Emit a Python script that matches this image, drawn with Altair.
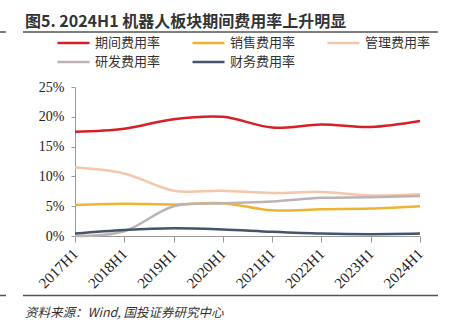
import altair as alt
import pandas as pd

periods = ["2017H1", "2018H1", "2019H1", "2020H1", "2021H1", "2022H1", "2023H1", "2024H1"]
series_names = ["期间费用率", "销售费用率", "管理费用率", "研发费用率", "财务费用率"]
period_rate = [17.5, 18.0, 19.6, 20.0, 18.2, 18.7, 18.3, 19.3]
sales_rate = [5.2, 5.4, 5.3, 5.5, 4.3, 4.5, 4.6, 5.0]
admin_rate = [11.5, 10.5, 7.6, 7.6, 7.2, 7.4, 6.8, 7.0]
rd_rate = [0.0, 0.8, 5.0, 5.5, 5.8, 6.4, 6.5, 6.7]
fin_rate = [0.4, 1.0, 1.3, 1.1, 0.7, 0.4, 0.3, 0.4]
colors = ["#D42027", "#EBB532", "#F5C6AA", "#BDB3B3", "#44546A"]

title_text = "图5. 2024H1 机器人板块期间费用率上升明显"
source_text = "资料来源：Wind, 国投证券研究中心"

rows = []
for name, vals in zip(series_names, [period_rate, sales_rate, admin_rate, rd_rate, fin_rate]):
    for p, v in zip(periods, vals):
        rows.append({"期间": p, "系列": name, "值": v / 100})
df = pd.DataFrame(rows)

W, H = 345, 149
L, T = 75, 87

lines = alt.Chart(df).mark_line(interpolate="catmull-rom", strokeWidth=2.5).encode(
    x=alt.X("期间:N", sort=periods, scale=alt.Scale(type="point", padding=0),
            axis=alt.Axis(title=None, labelAngle=315, labelAlign="right", labelBaseline="middle",
                          labelFont="Liberation Serif", labelFontSize=15, labelColor="#222",
                          domainColor="#999", tickColor="#999", tickSize=6, labelPadding=9,
                          grid=False)),
    y=alt.Y("值:Q", scale=alt.Scale(domain=[0, 0.25]),
            axis=alt.Axis(title=None, format=".0%", values=[0, 0.05, 0.1, 0.15, 0.2, 0.25],
                          labelFont="Liberation Serif", labelFontSize=14, labelColor="#222",
                          domainColor="#999", tickColor="#999", tickSize=4, labelPadding=7,
                          grid=False)),
    color=alt.Color("系列:N", scale=alt.Scale(domain=series_names, range=colors),
                    legend=alt.Legend(title=None, orient="none", legendX=-19, legendY=-51,
                                      direction="horizontal", columns=3, symbolType="stroke",
                                      symbolSize=1024, symbolStrokeWidth=2.5, clipHeight=14,
                                      labelFont="Noto Sans CJK SC", labelFontSize=13,
                                      labelColor="#333", labelOffset=4, columnPadding=30,
                                      rowPadding=5, labelLimit=200)),
    order=alt.value(0),
)

title = alt.Chart(pd.DataFrame({"t": [title_text]})).mark_text(
    align="left", baseline="alphabetic", font="Noto Sans CJK SC", fontSize=16,
    fontWeight="bold", color="#333"
).encode(text="t:N", x=alt.value(25 - L), y=alt.value(27 - T))

source = alt.Chart(pd.DataFrame({"t": [source_text]})).mark_text(
    align="left", baseline="alphabetic", font="Noto Sans CJK SC", fontSize=12.5,
    fontStyle="italic", color="#333"
).encode(text="t:N", x=alt.value(25 - L), y=alt.value(317 - T))

rule_df = pd.DataFrame({"k": [0]})
rules = []
for y_abs in [32, 295.5]:
    rules.append(alt.Chart(rule_df).mark_rule(color="#555", strokeWidth=1.5).encode(
        x=alt.value(23 - L), x2=alt.value(438 - L), y=alt.value(y_abs - T)))
    rules.append(alt.Chart(rule_df).mark_rule(color="#555", strokeWidth=1.5).encode(
        x=alt.value(0 - L), x2=alt.value(6 - L), y=alt.value(y_abs - T)))

chart = alt.layer(lines, title, source, *rules).properties(
    width=W, height=H,
    autosize=alt.AutoSizeParams(type="none"),
    padding={"left": L, "top": T, "right": 458 - L - W, "bottom": 328 - T - H},
    background="white",
).configure_view(stroke=None)

chart.save("out.html", embed_options={"renderer": "svg", "actions": False})
